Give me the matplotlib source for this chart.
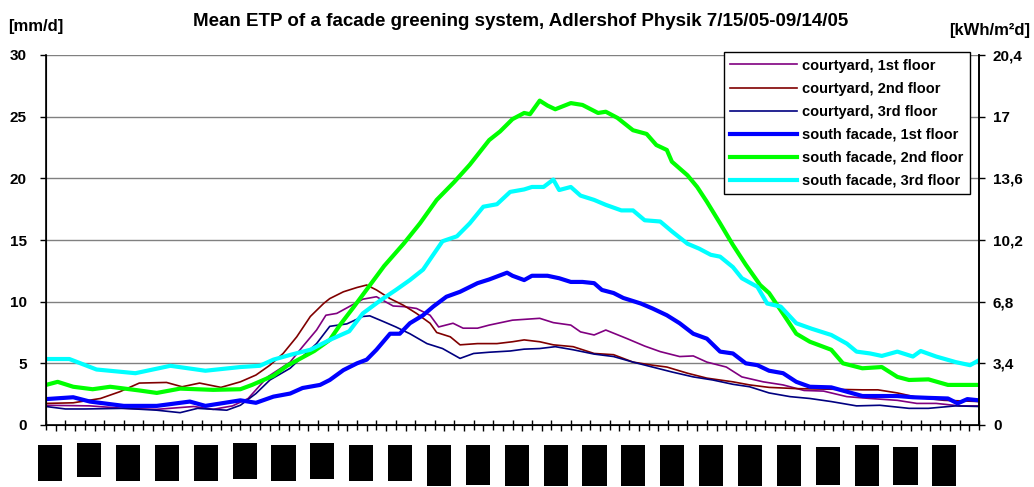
import matplotlib
matplotlib.use("Agg")
import matplotlib.pyplot as plt
from matplotlib.patches import Rectangle
from matplotlib.ticker import MultipleLocator
import matplotlib.transforms as mtransforms

plt.rcParams['font.family'] = ['Liberation Sans', 'DejaVu Sans']

# hours of the day (x) and ETP in mm/d (y)
cy1_h = [0, 1.13, 2.0, 2.85, 3.8, 4.3, 4.8, 5.2, 5.7, 6.28,
         6.6, 6.96, 7.2, 7.48, 7.8, 8.15, 8.5, 8.93, 9.2, 9.53,
         9.88, 10.1, 10.47, 10.73, 11.1, 11.4, 11.7, 12.0, 12.7, 13.05,
         13.5, 13.75, 14.1, 14.4, 14.95, 15.4, 15.8, 16.3, 16.65, 17.0,
         17.5, 17.9, 18.45, 18.96, 19.5, 20.0, 20.6, 21.2, 21.9, 22.4,
         22.9, 23.5, 24.0]
cy1_v = [1.6, 1.55, 1.35, 1.27, 1.5, 1.27, 1.55, 2.15, 3.9, 5.1,
         6.35, 7.7, 8.9, 9.05, 9.6, 10.2, 10.4, 9.65, 9.6, 9.45,
         8.9, 7.95, 8.25, 7.85, 7.85, 8.1, 8.3, 8.5, 8.65, 8.3,
         8.1, 7.55, 7.3, 7.7, 7.0, 6.4, 5.95, 5.55, 5.6, 5.1,
         4.7, 3.9, 3.5, 3.25, 2.8, 2.75, 2.3, 2.15, 2.0, 1.75,
         1.75, 1.55, 1.55]

cy2_h = [0, 0.7, 1.4, 1.9, 2.4, 3.1, 3.5, 3.95, 4.5, 5.0,
         5.4, 5.76, 6.1, 6.45, 6.8, 7.14, 7.3, 7.65, 8.0, 8.25,
         8.5, 8.85, 9.2, 9.53, 9.88, 10.05, 10.4, 10.65, 11.1, 11.6,
         12.0, 12.3, 12.7, 13.05, 13.56, 14.1, 14.6, 15.1, 15.6, 15.97,
         16.5, 17.0, 17.67, 18.1, 18.6, 19.3, 20.2, 21.0, 21.4, 21.9,
         22.4, 23.1, 23.6, 24.0]
cy2_v = [1.75, 1.8, 2.15, 2.7, 3.4, 3.45, 3.1, 3.4, 3.05, 3.5,
         4.05, 4.85, 5.8, 7.15, 8.8, 9.85, 10.25, 10.8, 11.15, 11.35,
         10.95, 10.25, 9.7, 9.05, 8.25, 7.5, 7.15, 6.5, 6.6, 6.6,
         6.75, 6.9, 6.75, 6.5, 6.35, 5.8, 5.7, 5.1, 4.85, 4.7,
         4.2, 3.8, 3.5, 3.25, 3.05, 2.95, 2.9, 2.85, 2.85, 2.6,
         2.25, 2.0, 1.95, 1.9]

cy3_h = [0, 0.5, 1.0, 2.0, 2.85, 3.45, 3.9, 4.65, 5.0, 5.4,
         5.76, 6.28, 6.6, 6.96, 7.3, 7.74, 8.15, 8.33, 8.67, 9.0,
         9.36, 9.8, 10.2, 10.65, 11.0, 11.4, 11.94, 12.3, 12.7, 13.1,
         13.56, 14.1, 14.6, 15.1, 15.6, 16.1, 16.65, 17.15, 17.67, 18.1,
         18.6, 19.14, 19.65, 20.2, 20.85, 21.45, 22.2, 22.7, 23.4, 24.0]
cy3_v = [1.5, 1.3, 1.3, 1.35, 1.2, 1.0, 1.35, 1.2, 1.6, 2.55,
         3.65, 4.6, 5.55, 6.6, 8.0, 8.2, 8.8, 8.85, 8.4, 7.95,
         7.4, 6.6, 6.2, 5.4, 5.8, 5.9, 6.0, 6.15, 6.2, 6.35,
         6.1, 5.75, 5.55, 5.1, 4.7, 4.3, 3.9, 3.65, 3.3, 3.1,
         2.6, 2.3, 2.15, 1.9, 1.55, 1.6, 1.35, 1.35, 1.55, 1.5]

sf1_h = [0, 0.7, 1.13, 2.0, 2.85, 3.7, 4.1, 5.0, 5.4, 5.85,
         6.28, 6.6, 7.05, 7.3, 7.65, 8.0, 8.25, 8.5, 8.85, 9.1,
         9.36, 9.7, 9.96, 10.3, 10.65, 11.1, 11.4, 11.86, 12.0, 12.3,
         12.5, 12.9, 13.2, 13.5, 13.8, 14.1, 14.3, 14.6, 14.85, 15.3,
         15.6, 15.97, 16.3, 16.65, 17.0, 17.34, 17.67, 18.0, 18.3, 18.6,
         18.96, 19.3, 19.65, 20.2, 20.6, 21.0, 21.45, 21.9, 22.3, 22.7,
         23.2, 23.45, 23.7, 24.0]
sf1_v = [2.1, 2.25, 1.9, 1.55, 1.55, 1.9, 1.55, 2.0, 1.8, 2.3,
         2.55, 3.0, 3.25, 3.65, 4.45, 5.0, 5.3, 6.1, 7.4, 7.4,
         8.25, 8.9, 9.6, 10.4, 10.8, 11.5, 11.8, 12.35, 12.1, 11.75,
         12.1, 12.1, 11.9, 11.6, 11.6, 11.5, 10.95, 10.7, 10.3, 9.85,
         9.45, 8.9, 8.25, 7.4, 7.0, 5.95, 5.8, 5.0, 4.85, 4.4,
         4.2, 3.5, 3.1, 3.05, 2.7, 2.35, 2.35, 2.35, 2.25, 2.2,
         2.15, 1.75, 2.1, 2.0]

sf2_h = [0, 0.3, 0.7, 1.2, 1.65, 2.4, 2.85, 3.45, 4.3, 5.0,
         5.3, 5.85, 6.2, 6.55, 6.9, 7.3, 7.56, 7.9, 8.3, 8.7,
         9.2, 9.62, 10.05, 10.5, 10.9, 11.4, 11.68, 12.0, 12.3, 12.45,
         12.7, 12.9, 13.1, 13.5, 13.8, 14.2, 14.4, 14.7, 15.1, 15.45,
         15.7, 15.97, 16.1, 16.5, 16.75, 17.0, 17.34, 17.67, 18.0, 18.37,
         18.6, 18.9, 19.3, 19.65, 20.2, 20.5, 21.0, 21.5, 21.9, 22.2,
         22.7, 23.2, 23.6, 24.0]
sf2_v = [3.25, 3.5, 3.1, 2.9, 3.1, 2.8, 2.6, 2.95, 2.85, 2.9,
         3.25, 4.0, 4.8, 5.4, 6.0, 6.9, 8.1, 9.5, 11.2, 12.9,
         14.7, 16.35, 18.25, 19.7, 21.1, 23.1, 23.8, 24.8, 25.3, 25.2,
         26.3, 25.9, 25.6, 26.1, 25.95, 25.3, 25.4, 24.9, 23.9, 23.6,
         22.7, 22.3, 21.35, 20.25, 19.3, 18.1, 16.35, 14.6, 13.0, 11.35,
         10.7, 9.3, 7.4, 6.75, 6.1, 5.0, 4.6, 4.7, 3.9, 3.65,
         3.7, 3.25, 3.25, 3.25]

sf3_h = [0, 0.6, 1.3, 2.3, 3.2, 4.1, 5.0, 5.5, 5.85, 6.3,
         6.8, 7.3, 7.8, 8.15, 8.6, 9.0, 9.36, 9.7, 9.96, 10.2,
         10.57, 10.9, 11.25, 11.6, 11.94, 12.3, 12.5, 12.8, 13.05, 13.2,
         13.5, 13.75, 14.1, 14.4, 14.8, 15.1, 15.4, 15.8, 16.1, 16.5,
         16.8, 17.1, 17.34, 17.67, 17.9, 18.3, 18.55, 18.9, 19.3, 19.7,
         20.2, 20.6, 20.85, 21.2, 21.5, 21.9, 22.3, 22.5, 22.9, 23.4,
         23.77, 24.0]
sf3_v = [5.35, 5.35, 4.5, 4.2, 4.8, 4.4, 4.7, 4.8, 5.3, 5.7,
         6.1, 6.9, 7.6, 9.05, 10.1, 10.95, 11.75, 12.6, 13.8, 14.9,
         15.3, 16.35, 17.7, 17.9, 18.9, 19.1, 19.3, 19.3, 19.9, 19.05,
         19.3, 18.6, 18.25, 17.85, 17.4, 17.4, 16.6, 16.5, 15.7, 14.7,
         14.3, 13.8, 13.65, 12.8, 11.9, 11.2, 9.85, 9.6, 8.25, 7.8,
         7.3, 6.6, 5.95, 5.8, 5.6, 5.95, 5.55, 6.0, 5.55, 5.1,
         4.85, 5.25]

labels = ['courtyard, 1st floor', 'courtyard, 2nd floor', 'courtyard, 3rd floor',
          'south facade, 1st floor', 'south facade, 2nd floor', 'south facade, 3rd floor']
colors = ['#800080', '#800000', '#000080', '#0000FF', '#00FF00', '#00FFFF']
widths = [1.2, 1.2, 1.2, 3.0, 3.0, 3.0]

left_ticks = [0, 5, 10, 15, 20, 25, 30]
right_labels = ['0', '3,4', '6,8', '10,2', '13,6', '17', '20,4']

# blacked-out time labels under the axis (pixels below the axis line)
box_bottom = [56, 52, 56, 56, 56, 54, 56, 54, 56, 56, 61, 60,
              61, 61, 61, 61, 61, 61, 61, 61, 60, 61, 60, 61]
box_top = [20, 18, 20, 20, 20, 18, 20, 18, 20, 20, 20, 20,
           20, 20, 20, 20, 20, 20, 20, 20, 22, 20, 22, 20]

fig = plt.figure(figsize=(10.34, 4.87), dpi=100)
ax = fig.add_axes([46 / 1034, 1 - 425 / 487, 933 / 1034, 370 / 487])

series = [(cy1_h, cy1_v), (cy2_h, cy2_v), (cy3_h, cy3_v),
          (sf1_h, sf1_v), (sf2_h, sf2_v), (sf3_h, sf3_v)]
for (h, v), lab, c, w in zip(series, labels, colors, widths):
    ax.plot(h, v, color=c, lw=w, label=lab, solid_joinstyle='round')

ax.set_xlim(0, 24)
ax.set_ylim(0, 30)
ax.set_yticks(left_ticks)
ax.yaxis.grid(True, color='#808080', lw=1.0)
ax.set_axisbelow(True)
ax.spines['top'].set_visible(False)
for s in ['left', 'right', 'bottom']:
    ax.spines[s].set_linewidth(1.2)
ax.xaxis.set_major_locator(MultipleLocator(0.5))
ax.xaxis.set_minor_locator(MultipleLocator(0.25))
ax.tick_params(axis='x', which='major', direction='inout', length=7, width=1, labelbottom=False)
ax.tick_params(axis='x', which='minor', direction='out', length=4, width=1)
ax.tick_params(axis='y', direction='out', length=4, width=1, pad=10)
for t in ax.get_yticklabels():
    t.set_fontweight('bold')
    t.set_fontsize(11)

ax2 = ax.twinx()
ax2.set_ylim(0, 30)
ax2.set_yticks(left_ticks)
ax2.set_yticklabels(right_labels, fontweight='bold', fontsize=11)
ax2.tick_params(axis='y', direction='out', length=4, width=1, pad=6)
ax2.spines['top'].set_visible(False)
ax2.spines['right'].set_linewidth(1.2)

leg = ax.legend(loc='upper right', bbox_to_anchor=(0.990, 1.008), borderaxespad=0,
                frameon=True, fancybox=False, edgecolor='black', framealpha=1,
                prop={'weight': 'bold', 'size': 10.5}, handlelength=4.6,
                labelspacing=0.62, borderpad=0.45, handletextpad=0.3)
leg.get_frame().set_linewidth(1.0)

# black boxes hiding the time-of-day labels
trans = mtransforms.blended_transform_factory(ax.transData, fig.dpi_scale_trans)
for k in range(24):
    y0 = (487 - 425 - box_bottom[k]) / 100
    hgt = (box_bottom[k] - box_top[k]) / 100
    fig.patches.append(Rectangle((k - 0.2, y0), 0.62, hgt, transform=trans,
                                 facecolor='black', edgecolor='none', clip_on=False))

fig.text(8 / 1034, 1 - 27 / 487, '[mm/d]', fontsize=12, fontweight='bold', va='center')
fig.text(1030 / 1034, 1 - 30 / 487, '[kWh/m²d]', fontsize=12, fontweight='bold',
         va='center', ha='right')
fig.text(521 / 1034, 1 - 22 / 487,
         'Mean ETP of a facade greening system, Adlershof Physik 7/15/05-09/14/05',
         fontsize=13.5, fontweight='bold', va='center', ha='center')

fig.savefig('out.png', dpi=100)
